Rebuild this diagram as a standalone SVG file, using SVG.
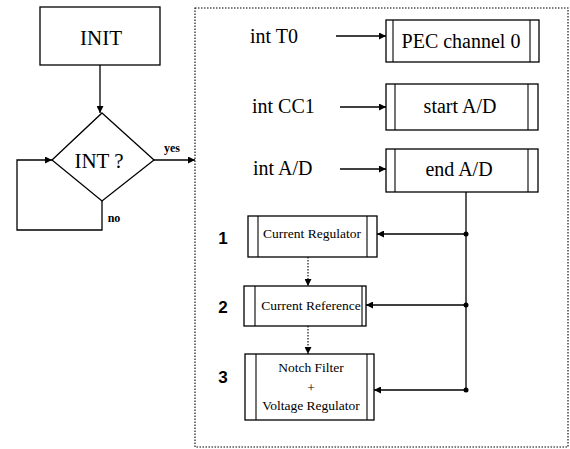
<svg xmlns="http://www.w3.org/2000/svg" width="570" height="449" viewBox="0 0 570 449">
<style>
.box{fill:#fff;stroke:#000;stroke-width:1.3}
.bar{stroke:#000;stroke-width:1.1}
.ln{fill:none;stroke:#000;stroke-width:1.3}
.dot{fill:none;stroke:#000;stroke-width:1.1;stroke-dasharray:1.5 1.5}
text{fill:#000;text-anchor:middle}
.big{font-size:21px}
.mid{font-size:20px}
.lft{text-anchor:start}
.sm{font-size:13.5px}
.yn{font-size:12px;font-weight:bold}
.num{font-size:17px;font-weight:bold}
</style>
<defs>
<marker id="ah" viewBox="0 0 10 10" refX="10" refY="5" markerWidth="7" markerHeight="7" markerUnits="userSpaceOnUse" orient="auto">
<path d="M0,0 L10,5 L0,10 z" fill="#000"/>
</marker>
</defs>
<rect x="195" y="8" width="373" height="439" class="dot"/>
<g font-family="Liberation Serif, DejaVu Serif, serif">
<g id="init"><rect x="40" y="7" width="120" height="58" class="box"/><text x="101" y="45" class="big">INIT</text></g>
<g id="intq"><path d="M102,113 L154,160 L102,201 L52,160 Z" class="box"/><text x="99" y="168" class="big">INT ?</text></g>
<g id="pec"><rect x="386" y="20" width="153" height="42" class="box"/><line x1="393" y1="20" x2="393" y2="62" class="bar"/><line x1="530" y1="20" x2="530" y2="62" class="bar"/><text x="461" y="48" class="mid">PEC channel 0</text></g>
<g id="start"><rect x="386" y="84" width="152" height="46" class="box"/><line x1="395" y1="84" x2="395" y2="130" class="bar"/><line x1="528" y1="84" x2="528" y2="130" class="bar"/><text x="460" y="113" class="mid">start A/D</text></g>
<g id="end"><rect x="386" y="149" width="152" height="43" class="box"/><line x1="395" y1="149" x2="395" y2="192" class="bar"/><line x1="528" y1="149" x2="528" y2="192" class="bar"/><text x="459" y="176" class="mid">end A/D</text></g>
<g id="creg"><rect x="248" y="216" width="129" height="41" class="box"/><line x1="258" y1="216" x2="258" y2="257" class="bar"/><line x1="367" y1="216" x2="367" y2="257" class="bar"/><text x="312" y="238" class="sm">Current Regulator</text></g>
<g id="cref"><rect x="244" y="286" width="122" height="40" class="box"/><line x1="255" y1="286" x2="255" y2="326" class="bar"/><line x1="362" y1="286" x2="362" y2="326" class="bar"/><text x="311" y="310" class="sm">Current Reference</text></g>
<g id="notch"><rect x="245" y="354" width="129" height="66" class="box"/><line x1="256" y1="354" x2="256" y2="420" class="bar"/><line x1="367" y1="354" x2="367" y2="420" class="bar"/><text x="311" y="372" class="sm">Notch Filter</text><text x="311" y="392" class="sm">+</text><text x="311" y="410" class="sm">Voltage Regulator</text></g>
<g id="labels">
<text x="250" y="43" class="mid lft">int T0</text>
<text x="252" y="113" class="mid lft">int CC1</text>
<text x="253" y="175" class="mid lft">int A/D</text>
<text x="172" y="152" class="yn">yes</text>
<text x="114" y="222" class="yn">no</text>
</g>
</g>
<g id="numbers" font-family="Liberation Sans, Arial, sans-serif">
<text x="223" y="244" class="num">1</text>
<text x="223" y="313" class="num">2</text>
<text x="223" y="383" class="num">3</text>
</g>
<g id="connectors">
<line x1="100" y1="65" x2="100" y2="113" class="ln" marker-end="url(#ah)"/>
<path d="M102,201 L102,230 L17,230 L17,160 L52,160" class="ln" marker-end="url(#ah)"/>
<line x1="154" y1="160" x2="195" y2="160" class="ln" marker-end="url(#ah)"/>
<line x1="336" y1="36" x2="386" y2="36" class="ln" marker-end="url(#ah)"/>
<line x1="340" y1="107" x2="386" y2="107" class="ln" marker-end="url(#ah)"/>
<line x1="340" y1="169" x2="386" y2="169" class="ln" marker-end="url(#ah)"/>
<line x1="466" y1="192" x2="466" y2="390" class="ln"/>
<line x1="466" y1="234" x2="377" y2="234" class="ln" marker-end="url(#ah)"/>
<line x1="466" y1="305" x2="366" y2="305" class="ln" marker-end="url(#ah)"/>
<line x1="466" y1="390" x2="374" y2="390" class="ln" marker-end="url(#ah)"/>
<circle cx="466" cy="234" r="2.5"/>
<circle cx="466" cy="305" r="2.5"/>
<circle cx="466" cy="390" r="2.5"/>
<line x1="308" y1="257" x2="308" y2="286" class="dot" marker-end="url(#ah)"/>
<line x1="308" y1="326" x2="308" y2="354" class="dot" marker-end="url(#ah)"/>
</g>
</svg>
